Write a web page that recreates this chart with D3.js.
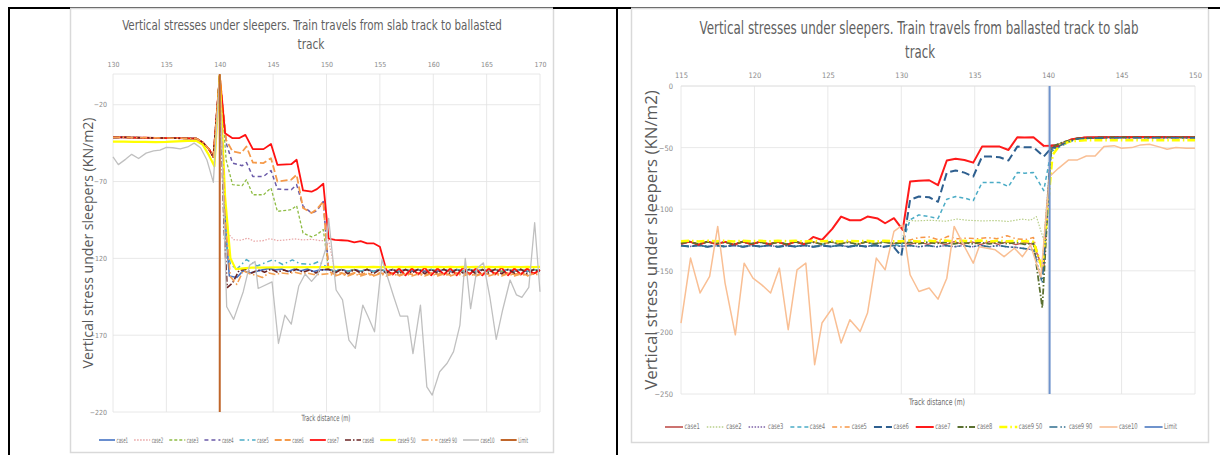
<!DOCTYPE html>
<html><head><meta charset="utf-8">
<script src="https://cdn.jsdelivr.net/npm/d3@7/dist/d3.min.js"></script>
<style>body{margin:0;background:#fff}svg{display:block}</style>
</head><body>
<svg id="c" width="1220" height="455"></svg>
<script>
// ================= LEFT CHART DATA (slab -> ballasted) =================
const L_names = ["case1","case2","case3","case4","case5","case6","case7","case8","case9 50","case9 90","case10","Limit"];
const L_ticksX = [130,135,140,145,150,155,160,165,170];
const L_ticksY = [-20,-70,-120,-170,-220];
const L_pre = [[130,-41.3],[131,-41.2],[132,-41.4],[133,-41.5],[134,-41.6],[135,-41.7],[136,-41.8],[137,-41.9],[137.8,-42],[138.4,-44.5],[139,-49],[139.4,-54],[140,-1]];
const L_pre_yel = [[130,-44],[131,-44],[132,-44.2],[133,-44.2],[134,-44.3],[135,-44.2],[136,-43.8],[137,-43.5],[137.8,-43.5],[138.4,-46],[139,-53],[139.5,-60],[140,-1]];
const L_pre_case10 = [[130,-54],[130.5,-59],[131.2,-55.4],[131.75,-52.3],[132.4,-55],[133.1,-51.5],[133.8,-50],[134.4,-49.5],[135,-47.8],[135.6,-48],[136.3,-48.8],[137,-47.5],[137.6,-45],[138.2,-48],[138.8,-56],[139.4,-70.5],[140,-1]];
const L_case1_post = [[140.6,-105],[140.9,-131.5],[141.6,-132.5],[142.2,-128],[142.8,-129.5],[143.4,-128.5],[144,-127.5],[144.6,-126.5],[145.2,-127.5],[145.8,-127],[146.4,-128.5],[147,-127],[147.6,-128],[148.2,-127],[148.8,-128.5],[149.4,-127.5]];
const L_case2_post = [[140.4,-80],[140.8,-104],[141.3,-107.8],[142,-108.2],[142.6,-106.8],[143.2,-108.8],[144,-108.6],[144.7,-107.2],[145.4,-108.4],[146.2,-108],[147,-107.3],[147.8,-108],[148.6,-107.6],[149.4,-108.4],[150.2,-108.5]];
const L_case3_post = [[140.6,-56],[141.2,-72],[142.1,-72.7],[142.5,-68.8],[143.1,-78.6],[144.1,-78.6],[144.8,-74.2],[145.4,-89.4],[146.7,-88.3],[147.2,-85.7],[147.8,-103.5],[148.6,-106],[149.1,-104.5],[149.7,-101.3]];
const L_case4_post = [[140.6,-45],[141.2,-58],[142.1,-59.7],[142.5,-57.6],[143.1,-66.7],[144.1,-66.7],[144.8,-62.8],[145.4,-74.9],[146.7,-75.3],[147.2,-72],[147.8,-86],[148.6,-90.5],[149.1,-89],[149.7,-83]];
const L_case5_post = [[140.6,-110],[141,-124],[141.6,-127],[142.5,-120.8],[143.5,-125],[144.2,-123],[145,-120.8],[145.9,-124],[146.8,-121],[147.5,-123.4],[148.6,-124],[149.3,-122],[149.9,-125]];
const L_case6_post = [[140.6,-43],[141.2,-50.4],[142,-51.5],[142.5,-47.2],[143.1,-57.6],[144.1,-58],[144.8,-54.8],[145.4,-70],[146.7,-68.8],[147.2,-65.6],[147.8,-87.2],[148.6,-90.5],[149.1,-88],[149.7,-83]];
const L_case7_post = [[140.5,-38.5],[141.2,-41.8],[141.8,-41.8],[142.4,-39.6],[143.1,-48.9],[144.1,-48.9],[144.8,-45.5],[145.4,-59.1],[146.7,-58.7],[147.2,-55.8],[147.8,-75.8],[148.6,-76.6],[149.1,-74.9],[149.7,-71.4]];
const L_case8_post = [[140.4,-100],[140.7,-139],[141.2,-136],[141.8,-128],[142.4,-127],[143,-129.5],[143.6,-127.5],[144.2,-129],[144.8,-127],[145.4,-129],[146,-127.5],[146.6,-129],[147.2,-127],[147.8,-129],[148.4,-127.5],[149,-129.5],[149.6,-127.5]];
const L_case950_post = [[140.5,-80],[141,-120],[141.5,-127],[142.2,-126.5],[143,-126],[146,-125.8],[149.6,-125.7]];
const L_case990_post = [[140.5,-95],[141,-132],[141.6,-137],[142.2,-128],[142.8,-130],[143.4,-131],[144,-132.5],[144.6,-129.5],[145.2,-130.5],[145.8,-129.5],[146.4,-130],[147,-129],[147.6,-130],[148.2,-129.5],[148.8,-130.5],[149.4,-130.5]];
const L_case10_post = [[140.65,-151.5],[141.3,-159.7],[142.2,-141.7],[142.8,-124.4],[143.3,-122],[143.6,-139.6],[144.9,-135.3],[145.5,-175.4],[146.1,-157],[146.7,-162.8],[147.4,-138],[148,-130.2],[148.6,-135],[149.2,-130],[149.9,-114.6],[150.2,-94],[150.9,-140.6],[151.5,-147],[152.1,-173.2],[152.7,-178.6],[153.4,-150.4],[153.9,-158],[154.5,-167.8],[155.2,-120.7],[156.3,-145],[156.9,-157.6],[157.6,-157.6],[158.1,-182],[158.8,-150.4],[159.4,-203.7],[159.9,-209],[160.6,-193.8],[161.3,-188.3],[161.9,-180.7],[162.5,-163.4],[163,-120],[163.5,-152.7],[164.1,-126.6],[164.7,-122.9],[165.3,-145],[165.9,-172.7],[166.5,-153.6],[167.2,-134.1],[167.8,-143.8],[168.3,-145.4],[168.95,-138.9],[169.5,-96.8],[170,-141.7]];
const L_tailX = [150.2,150.8,151.4,152,152.6,153.2,153.8,154.4,155,155.6,156.2,156.8,157.4,158,158.6,159.2,159.8,160.4,161,161.6,162.2,162.8,163.4,164,164.6,165.2,165.8,166.4,167,167.6,168.2,168.8,169.4,170];
const L_tail_mid = [-127.2,-128.4,-127.2,-128.5,-127.3,-128.4,-127.2,-128.5,-127.3,-128.4,-127.2,-128.5,-127.3,-128.4,-127.2,-128.5,-127.3,-128.4,-127.2,-128.5,-127.3,-128.4,-127.2,-128.5,-127.3,-128.4,-127.2,-128.5,-127.3,-128.4,-127.2,-128.5,-127.3,-128];
const L_tail_case6 = [-128.5,-130.5,-129.5,-131,-129.5,-130.5,-129.5,-131,-129.5,-130.5,-129.5,-131,-129.5,-130.5,-129.5,-131,-129.5,-130.5,-129.5,-131,-129.5,-130.5,-129.5,-131,-129.5,-130.5,-129.5,-131,-129.5,-130.5,-129.5,-131,-129.5,-130];
const L_tail_case7 = [-107.2,-108,-108.2,-108.5,-109.6,-108.8,-110.2,-110.2,-112.4,-127.5,-130.5,-126.5,-131,-126.5,-130.5,-126,-131,-126.5,-130.5,-126.5,-131,-126,-130.5,-126.5,-131,-126.5,-130.5,-126,-131,-126.5,-130.5,-126.5,-130,-127.5];
const L_tail_case8 = [-127,-129.5,-127,-130,-127.2,-129.5,-127,-130,-127.3,-129.5,-127,-130,-127.2,-129.6,-127,-130,-127.3,-129.5,-127,-130,-127.2,-129.6,-127,-130,-127.3,-129.5,-127,-130,-127.2,-129.6,-127,-130,-127.3,-128.5];
const L_tail_case950 = [-125.7,-125.6,-125.7,-125.6,-125.7,-125.6,-125.7,-125.6,-125.7,-125.6,-125.7,-125.6,-125.7,-125.6,-125.7,-125.6,-125.7,-125.6,-125.7,-125.6,-125.7,-125.6,-125.7,-125.6,-125.7,-125.6,-125.7,-125.6,-125.7,-125.6,-125.7,-125.6,-125.7,-125.6];
const L_tail_case990 = [-130,-131.5,-130.2,-131.5,-130,-131.4,-130.2,-131.5,-130,-131.5,-130.2,-131.4,-130,-131.5,-130.2,-131.5,-130,-131.4,-130.2,-131.5,-130,-131.5,-130.2,-131.4,-130,-131.5,-130.2,-131.5,-130,-131.4,-130.2,-131.5,-130,-131];
const L_limit = [[140,0],[140,-220]];

// ================= RIGHT CHART DATA (ballasted -> slab) =================
const R_names = ["case1","case2","case3","case4","case5","case6","case7","case8","case9 50","case9 90","case10","Limit"];
const R_ticksX = [115,120,125,130,135,140,145,150];
const R_ticksY = [0,-50,-100,-150,-200,-250];
const R_baseX = [115,115.6,116.2,116.8,117.4,118,118.6,119.2,119.8,120.4,121,121.6,122.2,122.8,123.4,124,124.6,125.2,125.8,126.4,127,127.6,128.2,128.8,129.4];
const R_base_zigA = [-128,-126.3,-128.8,-126.3,-128.2,-126.5,-128.8,-126.3,-128.5,-126.3,-128.5,-126.5,-128.8,-126.3,-128.5,-126.5,-128.8,-126.3,-128.5,-126.3,-128.8,-126.5,-128.5,-126.3,-128];
const R_base_zigB = [-127.5,-126.6,-128.2,-126.5,-127.8,-126.8,-128.4,-126.6,-128,-126.8,-128.2,-126.8,-128.4,-126.6,-128,-126.8,-128.4,-126.6,-128,-126.8,-128.4,-126.6,-128,-126.8,-127.5];
const R_base_low = [-129.5,-130.3,-129.2,-130.5,-129.5,-130.3,-129.2,-130.5,-129.5,-130.3,-129.2,-130.5,-129.5,-130.3,-129.2,-130.5,-129.5,-130.3,-129.2,-130.5,-129.5,-130.3,-129.2,-130.5,-129.5];
const R_base_yel = [-126,-125.6,-126.2,-125.6,-126,-125.6,-126.2,-125.6,-126,-125.6,-126.2,-125.6,-126,-125.6,-126.2,-125.6,-126,-125.6,-126.2,-125.6,-126,-125.6,-126.2,-125.6,-126];
const R_midX = [130,130.6,131.2,131.8,132.4,133,133.6,134.2,134.8,135.4,136,136.6,137.2,137.8,138.4,139];
const R_mid_zigA = [-127,-128.5,-126.5,-128.5,-126.5,-128.8,-126.3,-128.5,-126.5,-128.8,-126.3,-128.5,-126.5,-128.8,-127,-128.5];
const R_mid_zigB = [-127.5,-127,-128,-126.8,-127.8,-127,-128.2,-126.8,-128,-127,-128.2,-126.8,-128,-127,-128.5,-127.5];
const R_mid_low = [-130,-129.5,-130.5,-129.5,-130.5,-129.5,-130.5,-129.5,-130.5,-129.5,-130.5,-129.5,-130.5,-131,-132,-133];
const R_mid_yel = [-126,-125.5,-126.2,-125.6,-126,-125.5,-126.2,-125.6,-126,-125.5,-126.2,-125.6,-126,-125.8,-126,-126.5];
const R_case1_end = [[139.7,-150],[140.2,-48],[140.7,-47.5],[141.2,-45],[141.8,-42.8],[142.5,-41.8],[144,-41.6],[146,-41.3],[148,-41.4],[150,-41.5]];
const R_case2_end = [[130,-127],[130.4,-109],[131,-109.5],[132,-109],[133,-109.8],[133.8,-108],[134.5,-109],[135.5,-109.5],[136.5,-109.2],[137.3,-110],[138.2,-108],[138.8,-109],[139.2,-106],[139.7,-125],[140.2,-51],[141,-46],[142,-42.5],[144,-41.6],[150,-41.5]];
const R_case3_end = [[139.6,-148],[140.2,-50],[140.7,-48],[141.2,-45.5],[142,-42.5],[144,-41.6],[150,-41.5]];
const R_case4_end = [[130,-130],[130.6,-108.6],[131.2,-104.6],[131.9,-106],[132.5,-107.6],[133.1,-91.9],[133.7,-89.7],[134.3,-91],[134.9,-93],[135.5,-78.4],[136.1,-78.4],[136.7,-78.4],[137.3,-81.6],[137.9,-70.3],[138.4,-70.8],[139,-70.3],[139.7,-84.9],[140.2,-53.2],[140.7,-50],[141.2,-47],[141.8,-43.5],[142.5,-42],[144,-41.8],[146,-41.5],[150,-41.5]];
const R_case5_end = [[130,-127],[130.6,-125],[131.2,-123],[131.9,-122.5],[132.6,-125],[133.2,-122],[133.8,-124],[134.5,-123.5],[135.2,-124],[135.9,-123],[136.5,-124],[137.2,-121.5],[137.8,-124],[138.5,-124.5],[139,-123],[139.6,-150],[140.2,-52],[141,-46],[142,-42.5],[144,-41.8],[150,-41.5]];
const R_case6_end = [[130,-138],[130.6,-92.4],[131.2,-89.7],[131.9,-90.3],[132.5,-94],[133.1,-70.3],[133.7,-68.6],[134.3,-70.3],[134.9,-73.5],[135.5,-57.3],[136.1,-57.3],[136.7,-57.8],[137.3,-60.5],[137.9,-49.2],[138.4,-49.7],[139,-49.7],[139.7,-57.3],[140.2,-50.5],[140.7,-49],[141.2,-46],[141.8,-43],[142.5,-42],[144,-41.8],[146,-41.5],[148,-41.6],[150,-41.6]];
const R_case7_end = [[124,-122.5],[124.6,-125],[125.3,-116],[125.9,-106],[126.5,-109],[127.2,-109],[127.7,-106],[128.4,-107.6],[128.9,-111.4],[129.5,-107.3],[130.1,-116.8],[130.6,-77.6],[131.2,-77],[131.9,-76.5],[132.5,-80.5],[133.1,-60.5],[133.7,-59],[134.3,-60],[134.9,-62.2],[135.5,-49.2],[136.1,-49.2],[136.7,-49.2],[137.3,-51.9],[137.9,-41.6],[138.4,-41.9],[139,-41.6],[139.7,-48.6],[140.2,-48.4],[140.7,-48.6],[141.1,-46.5],[141.6,-43.2],[142.4,-41.9],[143.5,-41.5],[145,-41.6],[146.5,-41.3],[148,-41.5],[150,-41.5]];
const R_case8_end = [[139.6,-180],[140.2,-50],[140.7,-47],[141.2,-45],[142,-42.5],[144,-41.7],[150,-41.8]];
const R_case950_end = [[139.6,-148],[140.3,-56],[140.8,-48],[141.5,-45],[142.5,-44],[146,-44],[150,-44]];
const R_case990_end = [[139.6,-160],[140.2,-52],[140.7,-49],[141.2,-46],[142,-42.8],[144,-42],[150,-42]];
const R_case10 = [[115,-192.4],[115.65,-139.7],[116.3,-168],[116.95,-154.6],[117.5,-114],[118,-160],[118.7,-202],[119.3,-143.8],[119.9,-156],[120.5,-161.4],[121.1,-168],[121.7,-147.8],[122.3,-197.8],[122.9,-149.2],[123.5,-143.8],[124.1,-226.2],[124.6,-192.4],[125.3,-180.3],[125.9,-208.6],[126.5,-189.7],[127.2,-199.2],[127.7,-184.3],[128.3,-139.7],[128.9,-149.2],[129.5,-118],[130.1,-112.7],[130.6,-153.2],[131.2,-166.8],[131.9,-164],[132.5,-173],[133.1,-156],[133.6,-114],[134.3,-130.3],[134.9,-143.8],[135.3,-130.4],[136.4,-133],[137,-138.5],[137.7,-131.7],[138.25,-138.5],[138.8,-129],[139.5,-155],[140.1,-73.5],[140.7,-66.8],[141.4,-60],[142,-60],[142.6,-56.8],[143.2,-56.8],[143.8,-49.2],[144.5,-48.4],[145,-50.5],[145.7,-50],[146.3,-47.8],[146.9,-47.3],[147.5,-49.2],[148.1,-51.4],[148.7,-50],[149.4,-50.5],[150,-50.5]];
const R_limit = [[140.1,0],[140.1,-250]];

// ================= helpers to assemble series =================
const zip = (xs, vs) => xs.map((x, i) => [x, vs[i]]);
const tailFrom = (vals, after) => zip(L_tailX, vals).filter(d => d[0] > after);

const L_series = {
  "case1": L_pre.concat(L_case1_post, tailFrom(L_tail_mid, 149.5)),
  "case2": L_pre.concat(L_case2_post, tailFrom(L_tail_mid, 150.5)),
  "case3": L_pre.concat(L_case3_post, tailFrom(L_tail_mid, 149.8)),
  "case4": L_pre.concat(L_case4_post, tailFrom(L_tail_mid, 149.8)),
  "case5": L_pre.concat(L_case5_post, tailFrom(L_tail_mid, 149.9)),
  "case6": L_pre.concat(L_case6_post, tailFrom(L_tail_case6, 149.8)),
  "case7": L_pre.concat(L_case7_post, tailFrom(L_tail_case7, 149.8)),
  "case8": L_pre.concat(L_case8_post, tailFrom(L_tail_case8, 149.7)),
  "case9 50": L_pre_yel.concat(L_case950_post, tailFrom(L_tail_case950, 149.7)),
  "case9 90": L_pre.concat(L_case990_post, tailFrom(L_tail_case990, 149.5)),
  "case10": L_pre_case10.concat(L_case10_post),
  "Limit": L_limit
};
const R_series = {
  "case1": zip(R_baseX, R_base_zigA).concat(zip(R_midX, R_mid_zigA), R_case1_end),
  "case2": zip(R_baseX, R_base_zigB).concat(R_case2_end),
  "case3": zip(R_baseX, R_base_low).concat(zip(R_midX, R_mid_low), R_case3_end),
  "case4": zip(R_baseX, R_base_zigA).concat(R_case4_end),
  "case5": zip(R_baseX, R_base_zigA).concat(R_case5_end),
  "case6": zip(R_baseX, R_base_low).concat(R_case6_end),
  "case7": zip(R_baseX, R_base_zigA).filter(d => d[0] <= 123.4).concat(R_case7_end),
  "case8": zip(R_baseX, R_base_zigB).concat(zip(R_midX, R_mid_zigB), R_case8_end),
  "case9 50": zip(R_baseX, R_base_yel).concat(zip(R_midX, R_mid_yel), R_case950_end),
  "case9 90": zip(R_baseX, R_base_low).concat(zip(R_midX, R_mid_low), R_case990_end),
  "case10": R_case10,
  "Limit": R_limit
};

// ================= styles =================
const L_style = {
  "case1":{c:"#4472c4",w:1.6,d:null},
  "case2":{c:"#e8a3a3",w:1.2,d:"1.5,1.5"},
  "case3":{c:"#8fbc45",w:1.3,d:"3,2"},
  "case4":{c:"#6a5aa8",w:1.5,d:"4,3"},
  "case5":{c:"#4bacc6",w:1.5,d:"5,3,1.5,3"},
  "case6":{c:"#f59a4a",w:1.8,d:"7,3"},
  "case7":{c:"#ff1010",w:1.8,d:null},
  "case8":{c:"#6b2424",w:1.6,d:"6,2,1.5,2"},
  "case9 50":{c:"#ffff00",w:2.2,d:null},
  "case9 90":{c:"#f5a050",w:1.6,d:"7,2.5,1.5,2.5"},
  "case10":{c:"#c0c0c0",w:1.3,d:null},
  "Limit":{c:"#c0662a",w:2,d:null}
};
const R_style = {
  "case1":{c:"#c0504d",w:1.4,d:null},
  "case2":{c:"#b9cf8a",w:1.2,d:"1.5,1.5"},
  "case3":{c:"#7f63a8",w:1.5,d:"1.5,1.5"},
  "case4":{c:"#4bacc6",w:1.5,d:"4,3"},
  "case5":{c:"#f79646",w:1.5,d:"5,3,1.5,3"},
  "case6":{c:"#2e5f8f",w:2,d:"8,4"},
  "case7":{c:"#ff1a1a",w:2,d:null},
  "case8":{c:"#5a7030",w:1.8,d:"6,2,1.5,2"},
  "case9 50":{c:"#ffff00",w:2.5,d:"8,3,1.5,3"},
  "case9 90":{c:"#2f6e8f",w:1.6,d:"8,3,1.5,2,1.5,3"},
  "case10":{c:"#f9bf94",w:1.5,d:null},
  "Limit":{c:"#6f93cc",w:2,d:null}
};

const NARROW = "'Liberation Sans Narrow','DejaVu Sans Condensed','Roboto Condensed','Liberation Sans',sans-serif";
const svg = d3.select("#c");
svg.append("rect").attr("width",1220).attr("height",455).attr("fill","#fff");

// place a text horizontally scaled so that its width equals len
function fitText(parent, txt, x, y, len, fs, family, fill, rotate) {
  const g = parent.append("g");
  const t = g.append("text").attr("x",0).attr("y",0).attr("text-anchor","middle")
    .attr("dominant-baseline","central").attr("fill",fill)
    .style("font-family",family).style("font-size",fs+"px").text(txt);
  const w = t.node().getComputedTextLength();
  const k = len / w;
  g.attr("transform",`translate(${x},${y})${rotate ? " rotate(-90)" : ""} scale(${k},1)`);
  return g;
}

function drawChart(cfg) {
  const g = svg.append("g");
  g.append("rect").attr("x",cfg.box[0]+0.5).attr("y",cfg.box[1]+0.5)
    .attr("width",cfg.box[2]-cfg.box[0]).attr("height",cfg.box[3]-cfg.box[1])
    .attr("fill","#fff").attr("stroke","#d9d9d9").attr("stroke-width",1.5);
  const x = d3.scaleLinear().domain(cfg.xDom).range([cfg.plot[0], cfg.plot[1]]);
  const y = d3.scaleLinear().domain(cfg.yDom).range([cfg.plot[2], cfg.plot[3]]);
  const grid = g.append("g").attr("stroke","#e2e2e2").attr("stroke-width",0.8);
  cfg.xTicks.forEach(t => grid.append("line").attr("x1",x(t)).attr("x2",x(t)).attr("y1",y(cfg.yDom[0])).attr("y2",y(cfg.yDom[1])));
  cfg.yTicks.concat([cfg.yDom[0]]).forEach(t => grid.append("line").attr("x1",x(cfg.xDom[0])).attr("x2",x(cfg.xDom[1])).attr("y1",y(t)).attr("y2",y(t)));
  const ax = g.append("g").attr("transform",`translate(0,${cfg.xLabelY})`)
    .call(d3.axisTop(x).tickValues(cfg.xTicks).tickSize(0).tickPadding(0).tickFormat(d3.format("d")));
  const ay = g.append("g").attr("transform",`translate(${cfg.yLabelX},0)`)
    .call(d3.axisLeft(y).tickValues(cfg.yTicks).tickSize(0).tickPadding(0).tickFormat(d3.format("d")));
  [ax, ay].forEach(a => {
    a.select(".domain").remove();
    a.selectAll("text").attr("fill","#8a8a8a").style("font-family",NARROW).style("font-size",cfg.tickFs+"px");
  });
  const line = d3.line().x(d => x(d[0])).y(d => y(d[1]));
  cfg.names.forEach(n => {
    const s = cfg.style[n];
    g.append("path").datum(cfg.series[n]).attr("d", line)
      .attr("fill","none").attr("stroke",s.c).attr("stroke-width",s.w)
      .attr("stroke-dasharray",s.d).attr("stroke-linejoin","round");
  });
  cfg.title.forEach(t => fitText(g, t.text, t.x, t.y, t.len, t.fs, NARROW, "#5f5f5f", false));
  fitText(g, "Vertical stress under sleepers (KN/m2)", cfg.yTitle.x, cfg.yTitle.y, cfg.yTitle.len, cfg.yTitle.fs, "'Open Sans','Noto Sans',sans-serif", "#595959", true);
  fitText(g, "Track distance (m)", cfg.xTitle.x, cfg.xTitle.y, cfg.xTitle.len, cfg.xTitle.fs, NARROW, "#6a6a6a", false);
  // legend: natural widths measured, texts condensed so the row spans [x0, x1]
  const lg = g.append("g");
  const items = cfg.names.map(n => {
    const s = cfg.style[n];
    const it = lg.append("g");
    it.append("line").attr("x1",0).attr("x2",cfg.leg.len).attr("y1",0).attr("y2",0)
      .attr("stroke",s.c).attr("stroke-width",Math.max(s.w,1.6)).attr("stroke-dasharray",s.d);
    const tg = it.append("g");
    const t = tg.append("text").attr("x",0).attr("y",0).attr("dominant-baseline","central")
      .attr("fill","#777").style("font-family",NARROW).style("font-size",cfg.leg.fs+"px").text(n);
    return {it, tg, tw: t.node().getComputedTextLength()};
  });
  const n = items.length;
  const textTotal = d3.sum(items, d => d.tw);
  const avail = cfg.leg.x1 - cfg.leg.x0 - n * (cfg.leg.len + 1.5) - (n - 1) * cfg.leg.gap;
  const k = Math.min(1, avail / textTotal);
  const gap = (cfg.leg.x1 - cfg.leg.x0 - n * (cfg.leg.len + 1.5) - textTotal * k) / (n - 1);
  let cx = cfg.leg.x0;
  items.forEach(d => {
    d.tg.attr("transform",`translate(${cfg.leg.len + 1.5},0) scale(${k},1)`);
    d.it.attr("transform",`translate(${cx},${cfg.leg.y})`);
    cx += cfg.leg.len + 1.5 + d.tw * k + gap;
  });
}

drawChart({
  box:[70,8,553,452], plot:[113,540,74,412], xDom:[130,170], yDom:[0,-220],
  xTicks:L_ticksX, yTicks:L_ticksY, xLabelY:66.5, yLabelX:107, tickFs:7,
  names:L_names, series:L_series, style:L_style,
  title:[{text:"Vertical stresses under sleepers. Train travels from slab track to ballasted",x:312,y:25,fs:14,len:380},
         {text:"track",x:311,y:44.5,fs:14,len:27}],
  yTitle:{x:88,y:243,fs:14,len:251},
  xTitle:{x:326,y:418,fs:8.5,len:49},
  leg:{x0:99,x1:528,y:440,len:16,fs:7.5,gap:6}
});
drawChart({
  box:[631,8,1208,442], plot:[681,1195,86,394], xDom:[115,150], yDom:[0,-250],
  xTicks:R_ticksX, yTicks:R_ticksY, xLabelY:77.5, yLabelX:673, tickFs:7.5,
  names:R_names, series:R_series, style:R_style,
  title:[{text:"Vertical stresses under sleepers. Train travels from ballasted track to slab",x:919,y:28,fs:17,len:439},
         {text:"track",x:920,y:52,fs:17,len:30}],
  yTitle:{x:650.5,y:240,fs:17,len:300},
  xTitle:{x:937,y:402,fs:9,len:56},
  leg:{x0:665,x1:1177,y:427,len:18,fs:8,gap:7}
});

// table borders (black) and image top edges
const bd = svg.append("g");
[[8,70],[553,631],[1208,1220]].forEach(s => bd.append("line").attr("x1",s[0]).attr("x2",s[1]).attr("y1",8).attr("y2",8).attr("stroke","#000").attr("stroke-width",2));
[[70,553],[631,1208]].forEach(s => bd.append("line").attr("x1",s[0]).attr("x2",s[1]).attr("y1",7.5).attr("y2",7.5).attr("stroke","#6e6e6e").attr("stroke-width",1.2));
[9,617].forEach(xv => bd.append("line").attr("x1",xv).attr("x2",xv).attr("y1",7).attr("y2",455).attr("stroke","#000").attr("stroke-width",2));
</script>
</body></html>
